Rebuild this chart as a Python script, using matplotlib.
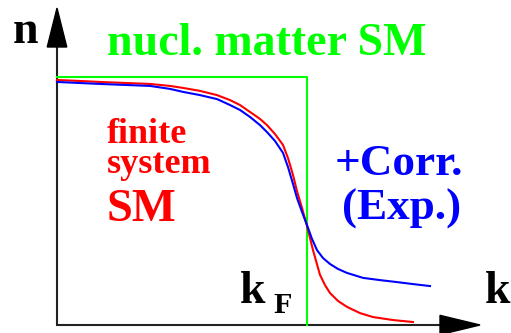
import matplotlib
matplotlib.use("Agg")
import matplotlib.pyplot as plt
from matplotlib.patches import Polygon

# momentum in units of k_F, occupation n(k)
k_fin = [0.0, 0.092, 0.172, 0.272, 0.372, 0.452, 0.504, 0.572, 0.64, 0.692,
         0.732, 0.772, 0.812, 0.84, 0.872, 0.904, 0.924, 0.944, 0.96, 0.98,
         1.0, 1.024, 1.052, 1.072, 1.092, 1.124, 1.16, 1.212, 1.264, 1.344, 1.424]
n_fin = [0.988, 0.984, 0.98, 0.976, 0.972, 0.964, 0.956, 0.944, 0.927, 0.907,
         0.887, 0.859, 0.831, 0.806, 0.77, 0.726, 0.673, 0.605, 0.54, 0.472,
         0.399, 0.302, 0.202, 0.161, 0.129, 0.097, 0.073, 0.048, 0.032, 0.02, 0.012]

k_corr = [0.0, 0.172, 0.372, 0.452, 0.504, 0.572, 0.64, 0.692, 0.732, 0.772,
          0.812, 0.84, 0.872, 0.904, 0.924, 0.944, 0.96, 0.98, 1.0, 1.02,
          1.04, 1.064, 1.092, 1.124, 1.16, 1.224, 1.292, 1.36, 1.424, 1.492]
n_corr = [0.98, 0.972, 0.964, 0.952, 0.94, 0.927, 0.911, 0.887, 0.867, 0.839,
          0.806, 0.778, 0.742, 0.694, 0.637, 0.569, 0.512, 0.456, 0.403, 0.347,
          0.302, 0.27, 0.246, 0.226, 0.21, 0.19, 0.181, 0.173, 0.165, 0.157]

# step function of nuclear matter
k_step = [0.0, 1.0, 1.0]
n_step = [1.0, 1.0, 0.0]

W, H = 511, 333
fig = plt.figure(figsize=(W / 100, H / 100), dpi=100)
ax = fig.add_axes([0, 0, 1, 1])
ax.set_xlim(-57 / 250, (W - 57) / 250)
ax.set_ylim(-(H - 325) / 248, 325 / 248)
ax.axis("off")

# axes with arrow heads
ax.plot([0, 0, 1.55], [1.13, 0, 0], color="#222222", lw=1.5,
        solid_joinstyle="miter", zorder=1)
ax.add_patch(Polygon([[0, 1.278], [-0.039, 1.121], [0.039, 1.121]],
                     closed=True, color="black", zorder=2))
ax.add_patch(Polygon([[1.692, 0], [1.532, 0.039], [1.532, -0.039]],
                     closed=True, color="black", zorder=2))

ax.plot(k_step, n_step, color="#00ff00", lw=1.5, zorder=3)
ax.plot(k_fin, n_fin, color="red", lw=1.5, zorder=4, solid_joinstyle="round")
ax.plot(k_corr, n_corr, color="blue", lw=1.5, zorder=5, solid_joinstyle="round")

font = dict(family="Liberation Serif", weight="bold", ha="left", va="baseline")


def label(x, y, s, size, color="black"):
    fig.text(x / W, 1 - y / H, s, fontsize=size, color=color, **font)


label(13, 43, "n", 33)
label(107, 55, "nucl. matter SM", 33, "#00ff00")
label(107, 143, "finite", 26, "red")
label(107, 173, "system", 26, "red")
label(107, 221, "SM", 33.5, "red")
label(335, 175, "+Corr.", 32.5, "blue")
label(342, 220, "(Exp.)", 32.5, "blue")
label(240, 303, "k", 33)
label(273, 313, "F", 21.6)
label(485, 303, "k", 33)

fig.savefig("out.png", dpi=100)
